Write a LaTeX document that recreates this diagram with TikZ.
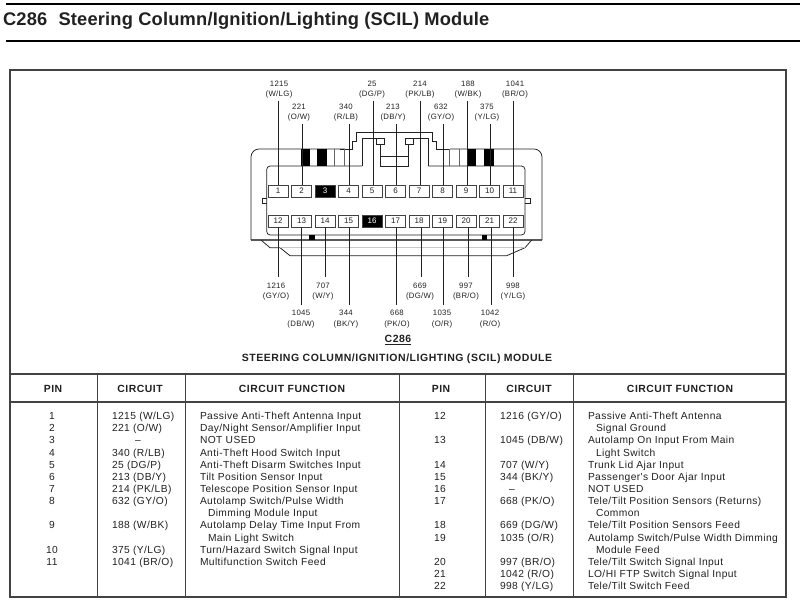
\documentclass[tikz,border=0pt]{standalone}
\usepackage{fontspec}
\setmainfont{Liberation Sans}
\newfontfamily\bodyf[LetterSpace=4]{Liberation Sans}
\newfontfamily\headf[LetterSpace=5]{Liberation Sans Bold}
\newfontfamily\titlef[LetterSpace=1]{Liberation Sans Bold}
\definecolor{ink}{gray}{0.13}
\tikzset{
  x=1pt,y=-1pt,
  every node/.style={inner sep=0pt,outer sep=0pt,text=ink},
  ln/.style={draw=ink,line width=0.75pt},
  rule/.style={draw=ink!85,line width=1.2pt},
  thick rule/.style={draw=black,line width=1.6pt},
  wire/.style={draw=ink,line width=0.8pt},
  pinbox/.style={draw=ink!85,line width=0.8pt,fill=white,minimum width=20pt,minimum height=12.2pt,font=\fontsize{8}{8}\selectfont},
  blackpin/.style={pinbox,fill=black,text=white},
  lab/.style={font=\bodyf\fontsize{7.8}{10.3}\selectfont,align=center,anchor=center},
  cell/.style={font=\bodyf\fontsize{10.25}{10}\selectfont,anchor=base west},
  pincell/.style={font=\bodyf\fontsize{10.25}{10}\selectfont,anchor=base},
  head/.style={font=\headf\fontsize{10.4}{10}\selectfont,anchor=center},
}
\newcommand{\rowy}[1]{\fpeval{419.6+12.15*(#1)}}
\begin{document}
\begin{tikzpicture}
\useasboundingbox (0,0) rectangle (800,608);
\fill[white] (0,0) rectangle (800,608);
% title
\draw[thick rule] (6,4) -- (800,4);
\draw[thick rule] (6,41) -- (800,41);
\node[anchor=west,font=\titlef\fontsize{18.3}{20}\selectfont] (title) at (3,21) {C286\hspace{6pt} Steering Column/Ignition/Lighting (SCIL) Module};
% frame and table
\draw[rule] (10,70) rectangle (786,597);
\draw[rule] (10,374) -- (786,374);
\draw[rule] (10,402) -- (786,402);
\foreach \x in {97,185,399,485,573} \draw[rule,line width=1pt] (\x,374) -- (\x,597);
% connector body
\draw[ln,draw=ink!75,line width=1.2pt] (251,240) -- (542,240);
\draw[ln,rounded corners=8pt] (251,240) -- (251,149) -- (345,149);
\draw[ln,rounded corners=8pt] (542,240) -- (542,149) -- (450,149);
\draw[ln] (340,149) -- (352.7,149) -- (352.7,141.7) -- (356.7,141.7) -- (356.7,132.3) -- (432.3,132.3) -- (432.3,141.7) -- (436.7,141.7) -- (436.7,149) -- (450,149);
\draw[ln,rounded corners=3.5pt] (362,166) -- (266.7,166) -- (266.7,235) -- (525,235) -- (525,166) -- (428.3,166);
\draw[ln] (362,166) -- (362,138.3) -- (384.3,138.3) -- (384.3,144) -- (376.5,144) -- (376.5,138.3);
\draw[ln] (428.3,166) -- (428.3,138.3) -- (405,138.3) -- (405,144) -- (413.3,144) -- (413.3,138.3);
\draw[ln] (380.7,144) -- (380.7,166) -- (408.3,166) -- (408.3,144);
\draw[ln] (380.7,156.7) -- (408.3,156.7);
% stripes
\fill[black] (300.7,149.3) rectangle (309.5,165.7);
\fill[black] (317.3,149.3) rectangle (326.7,165.7);
\fill[black] (466.7,149.3) rectangle (476,165.7);
\fill[black] (484,149.3) rectangle (493.7,165.7);
\foreach \x in {334,344.5,449.5,459.5} \draw[ln,draw=ink!70] (\x,149.3) -- (\x,165.7);
% side tabs
\draw[ln] (266.7,198) -- (262,198) -- (262,203) -- (266.7,203);
\draw[ln] (525,198) -- (530,198) -- (530,203) -- (525,203);
% bottom
\fill[black] (309,235) rectangle (314.5,240.3);
\fill[black] (482,235) rectangle (487.3,240.3);
\draw[ln] (261,240) -- (270,247.7) -- (280,247.7) -- (290,255.7) -- (506.7,255.7) -- (525,247.7) -- (531.7,240);
\draw[ln,draw=ink!25,line width=0.5pt] (280,247.7) -- (525,247.7);
% pins
\foreach \n in {1,...,11} {
  \pgfmathsetmacro{\px}{278+23.5*(\n-1)}
  \ifnum\n=3 \node[blackpin] (p\n) at (\px,191) {\n};
  \else \node[pinbox] (p\n) at (\px,191) {\n}; \fi
}
\foreach \n in {12,...,22} {
  \pgfmathsetmacro{\px}{278+23.5*(\n-12)}
  \ifnum\n=16 \node[blackpin] (p\n) at (\px,221) {\n};
  \else \node[pinbox] (p\n) at (\px,221) {\n}; \fi
}
% top wires and labels
\foreach \n/\wx/\wy/\lx/\ly/\a/\b in {
 1/278.7/101/279/89.7/1215/{(W/LG)},
 2/302/124/299/112.7/221/{(O/W)},
 4/349/124/346/112.7/340/{(R/LB)},
 5/373.6/101/372/89.7/25/{(DG/P)},
 6/396/124/393/112.7/213/{(DB/Y)},
 7/420/101/420/89.7/214/{(PK/LB)},
 8/443/124/441/112.7/632/{(GY/O)},
 9/467/101/468/89.7/188/{(W/BK)},
 10/490/124/487/112.7/375/{(Y/LG)},
 11/513/101/515/89.7/1041/{(BR/O)}} {
  \node[lab] (l\n) at (\lx,\ly) {\a\\\b};
  \coordinate (w\n) at (\wx,\wy);
  \draw[wire] (w\n) -- (w\n |- p\n.north);
}
% bottom wires and labels
\foreach \n/\wx/\wy/\lx/\ly/\a/\b in {
 12/278/277/276/291.5/1216/{(GY/O)},
 13/301.5/305/301/319/1045/{(DB/W)},
 14/325/277/323/291.5/707/{(W/Y)},
 15/349/305/346/319/344/{(BK/Y)},
 17/396/305/397/319/668/{(PK/O)},
 18/421/277/420/291.5/669/{(DG/W)},
 19/443/305/442/319/1035/{(O/R)},
 20/468/277/466/291.5/997/{(BR/O)},
 21/491/305/490/319/1042/{(R/O)},
 22/513/277/513/291.5/998/{(Y/LG)}} {
  \node[lab] (l\n) at (\lx,\ly) {\a\\\b};
  \coordinate (w\n) at (\wx,\wy);
  \draw[wire] (w\n) -- (w\n |- p\n.south);
}
% captions
\node[font=\headf\fontsize{10.5}{10}\selectfont] (cap) at (398,340) {\underline{C286}};
\node[font=\headf\fontsize{10.5}{10}\selectfont] (capb) at (397,359) {STEERING COLUMN/IGNITION/LIGHTING (SCIL) MODULE};
% headers
\node[head] (hp1) at (53,389) {PIN};
\node[head] (hc1) at (140,389) {CIRCUIT};
\node[head] (hf1) at (292,389) {CIRCUIT FUNCTION};
\node[head] (hp2) at (441,389) {PIN};
\node[head] (hc2) at (529,389) {CIRCUIT};
\node[head] (hf2) at (680,389) {CIRCUIT FUNCTION};
% left table rows
\foreach \k/\p/\c/\f in {
 0/1/{1215 (W/LG)}/{Passive Anti-Theft Antenna Input},
 1/2/{221 (O/W)}/{Day/Night Sensor/Amplifier Input},
 3/4/{340 (R/LB)}/{Anti-Theft Hood Switch Input},
 4/5/{25 (DG/P)}/{Anti-Theft Disarm Switches Input},
 5/6/{213 (DB/Y)}/{Tilt Position Sensor Input},
 6/7/{214 (PK/LB)}/{Telescope Position Sensor Input},
 7/8/{632 (GY/O)}/{Autolamp Switch/Pulse Width},
 9/9/{188 (W/BK)}/{Autolamp Delay Time Input From},
 11/10/{375 (Y/LG)}/{Turn/Hazard Switch Signal Input},
 12/11/{1041 (BR/O)}/{Multifunction Switch Feed}} {
  \node[pincell] (lp\p) at (52,\rowy{\k}) {\p};
  \node[cell] (lc\p) at (112,\rowy{\k}) {\c};
  \node[cell] (lf\p) at (200,\rowy{\k}) {\f};
}
\node[pincell] (lp3) at (52,\rowy{2}) {3};
\node[pincell] (lc3) at (138,\rowy{2}) {–};
\node[cell] (lf3) at (200,\rowy{2}) {NOT USED};
\node[cell] (lf8b) at (208,\rowy{8}) {Dimming Module Input};
\node[cell] (lf9b) at (208,\rowy{10}) {Main Light Switch};
% right table rows
\foreach \k/\p/\c/\f in {
 0/12/{1216 (GY/O)}/{Passive Anti-Theft Antenna},
 2/13/{1045 (DB/W)}/{Autolamp On Input From Main},
 4/14/{707 (W/Y)}/{Trunk Lid Ajar Input},
 5/15/{344 (BK/Y)}/{Passenger's Door Ajar Input},
 7/17/{668 (PK/O)}/{Tele/Tilt Position Sensors (Returns)},
 9/18/{669 (DG/W)}/{Tele/Tilt Position Sensors Feed},
 10/19/{1035 (O/R)}/{Autolamp Switch/Pulse Width Dimming},
 12/20/{997 (BR/O)}/{Tele/Tilt Switch Signal Input},
 13/21/{1042 (R/O)}/{LO/HI FTP Switch Signal Input},
 14/22/{998 (Y/LG)}/{Tele/Tilt Switch Feed}} {
  \node[pincell] (rp\p) at (440,\rowy{\k}) {\p};
  \node[cell] (rc\p) at (500,\rowy{\k}) {\c};
  \node[cell] (rf\p) at (588,\rowy{\k}) {\f};
}
\node[pincell] (rp16) at (440,\rowy{6}) {16};
\node[pincell] (rc16) at (512,\rowy{6}) {–};
\node[cell] (rf16) at (588,\rowy{6}) {NOT USED};
\node[cell] (rf12b) at (596,\rowy{1}) {Signal Ground};
\node[cell] (rf13b) at (596,\rowy{3}) {Light Switch};
\node[cell] (rf17b) at (596,\rowy{8}) {Common};
\node[cell] (rf19b) at (596,\rowy{11}) {Module Feed};
\end{tikzpicture}
\end{document}
